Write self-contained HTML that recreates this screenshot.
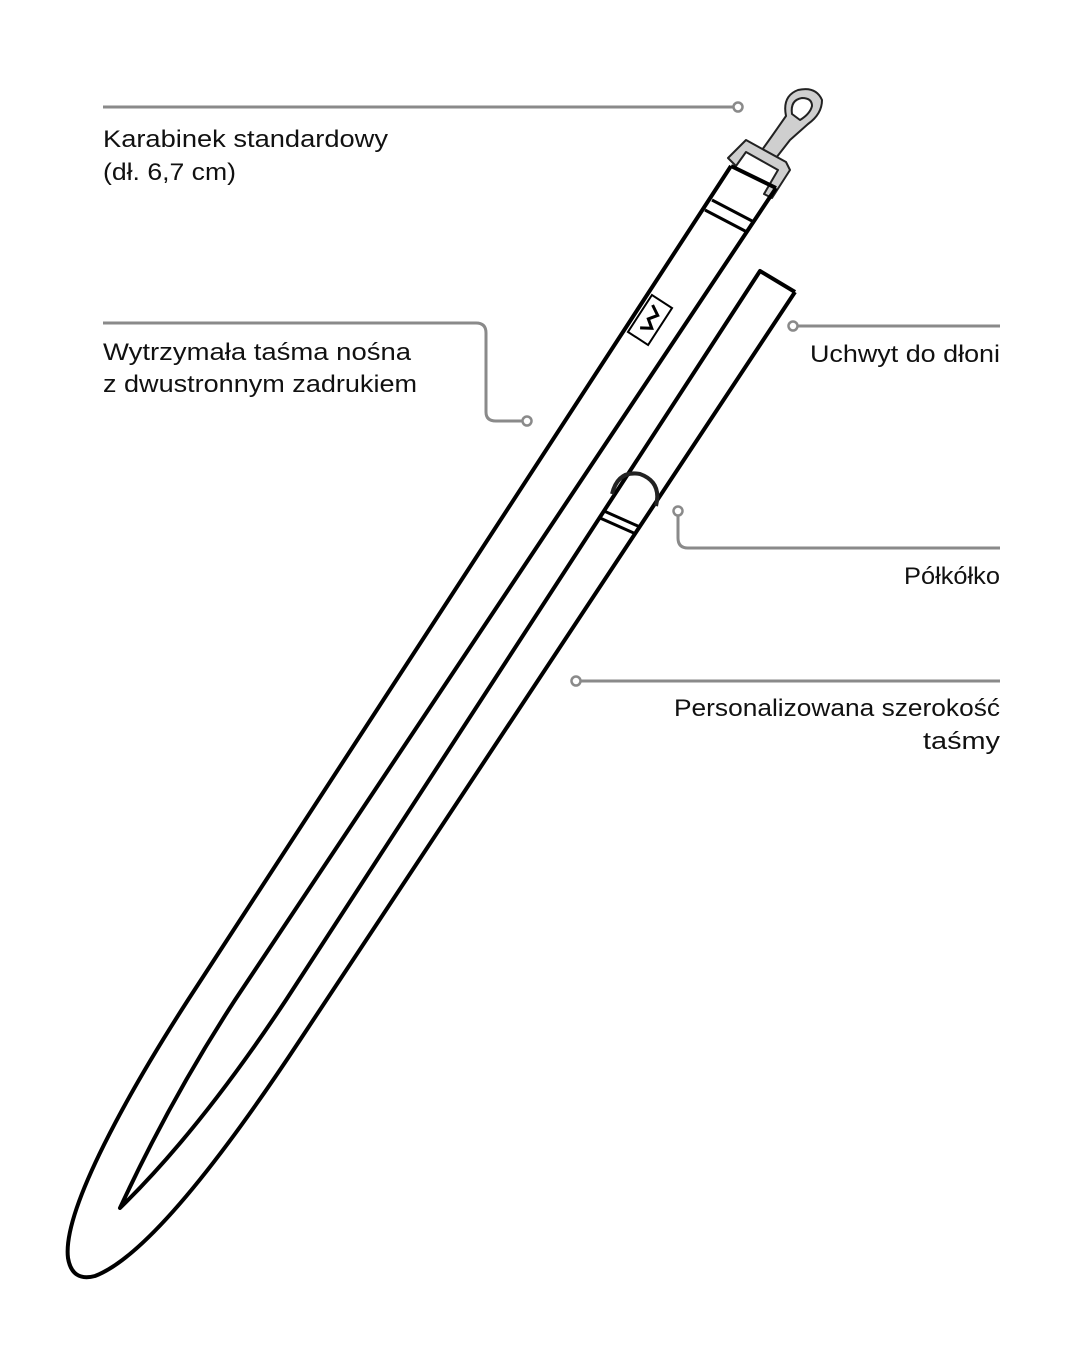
<!DOCTYPE html>
<html><head><meta charset="utf-8"><style>
html,body{margin:0;padding:0;background:#fff;}
svg{display:block;}
text{font-family:"Liberation Sans",sans-serif;font-size:24px;fill:#111;}
</style></head><body>
<svg width="1080" height="1350" viewBox="0 0 1080 1350" xmlns="http://www.w3.org/2000/svg">
<g fill="none" stroke="#8a8a8a" stroke-width="3">
  <path d="M103 107 H733"/>
  <circle cx="738" cy="107" r="4.5" stroke-width="2.5"/>
  <path d="M103 323 H476 Q486 323 486 333 V412 Q486 421 496 421 H522"/>
  <circle cx="527" cy="421" r="4.5" stroke-width="2.5"/>
  <path d="M798 326 H1000"/>
  <circle cx="793" cy="326" r="4.5" stroke-width="2.5"/>
  <path d="M678 516 V538 Q678 548 688 548 H1000"/>
  <circle cx="678" cy="511" r="4.5" stroke-width="2.5"/>
  <path d="M581 681 H1000"/>
  <circle cx="576" cy="681" r="4.5" stroke-width="2.5"/>
</g>
<text x="103" y="147" textLength="285" lengthAdjust="spacingAndGlyphs">Karabinek standardowy</text>
<text x="103" y="180" textLength="133" lengthAdjust="spacingAndGlyphs">(dł. 6,7 cm)</text>
<text x="103" y="360" textLength="308" lengthAdjust="spacingAndGlyphs">Wytrzymała taśma nośna</text>
<text x="103" y="392" textLength="314" lengthAdjust="spacingAndGlyphs">z dwustronnym zadrukiem</text>
<text x="1000" y="362" text-anchor="end" textLength="190" lengthAdjust="spacingAndGlyphs">Uchwyt do dłoni</text>
<text x="1000" y="584" text-anchor="end" textLength="96" lengthAdjust="spacingAndGlyphs">Półkółko</text>
<text x="1000" y="716" text-anchor="end" textLength="326" lengthAdjust="spacingAndGlyphs">Personalizowana szerokość</text>
<text x="1000" y="749" text-anchor="end" textLength="77" lengthAdjust="spacingAndGlyphs">taśmy</text>

<g stroke="#222" stroke-width="2" fill="#cfcfcf" stroke-linejoin="round">
  <path d="M762 150 L772 136 L786 116 Q782 96 798 90 Q816 86 822 100 Q822 114 808 124 L790 140 L776 158 Z"/>
  <path d="M792 114 Q790 100 802 98 Q812 98 812 106 Q810 114 800 120 Z" fill="#fff"/>
  <path d="M728 158 L746 140 L786 162 L790 170 L772 198 L764 194 L778 170 L746 152 L736 166 Z"/>
</g>
<g fill="none" stroke="#000" stroke-width="4" stroke-linejoin="round">
  <path d="M731 166 L188 1000 C130 1090 62 1210 68 1258 Q72 1282 95 1276 C150 1255 234 1140 300 1040 L795 292"/>
  <path d="M776 188 L235 1000 Q170 1100 120 1208 Q200 1130 286 1000 L760 271 L795 292"/>
  <path d="M731 166 L776 188"/>
  <path d="M712 200 L754 222 M705 210 L747 232" stroke-width="3"/>
  <path d="M604 511 L640 527 M600 518 L636 534" stroke-width="3"/>
</g>
<path d="M612 494 Q618 470 640 474 Q662 482 656 506" fill="none" stroke="#222" stroke-width="4"/>
<g transform="translate(650 320) rotate(33)">
  <rect x="-12" y="-22" width="24" height="44" fill="#fff" stroke="#000" stroke-width="2"/>
  <path d="M-6 -14 L4 -8 L-2 0 L6 6 L-4 12" fill="none" stroke="#000" stroke-width="3"/>
</g>
</svg>
</body></html>
